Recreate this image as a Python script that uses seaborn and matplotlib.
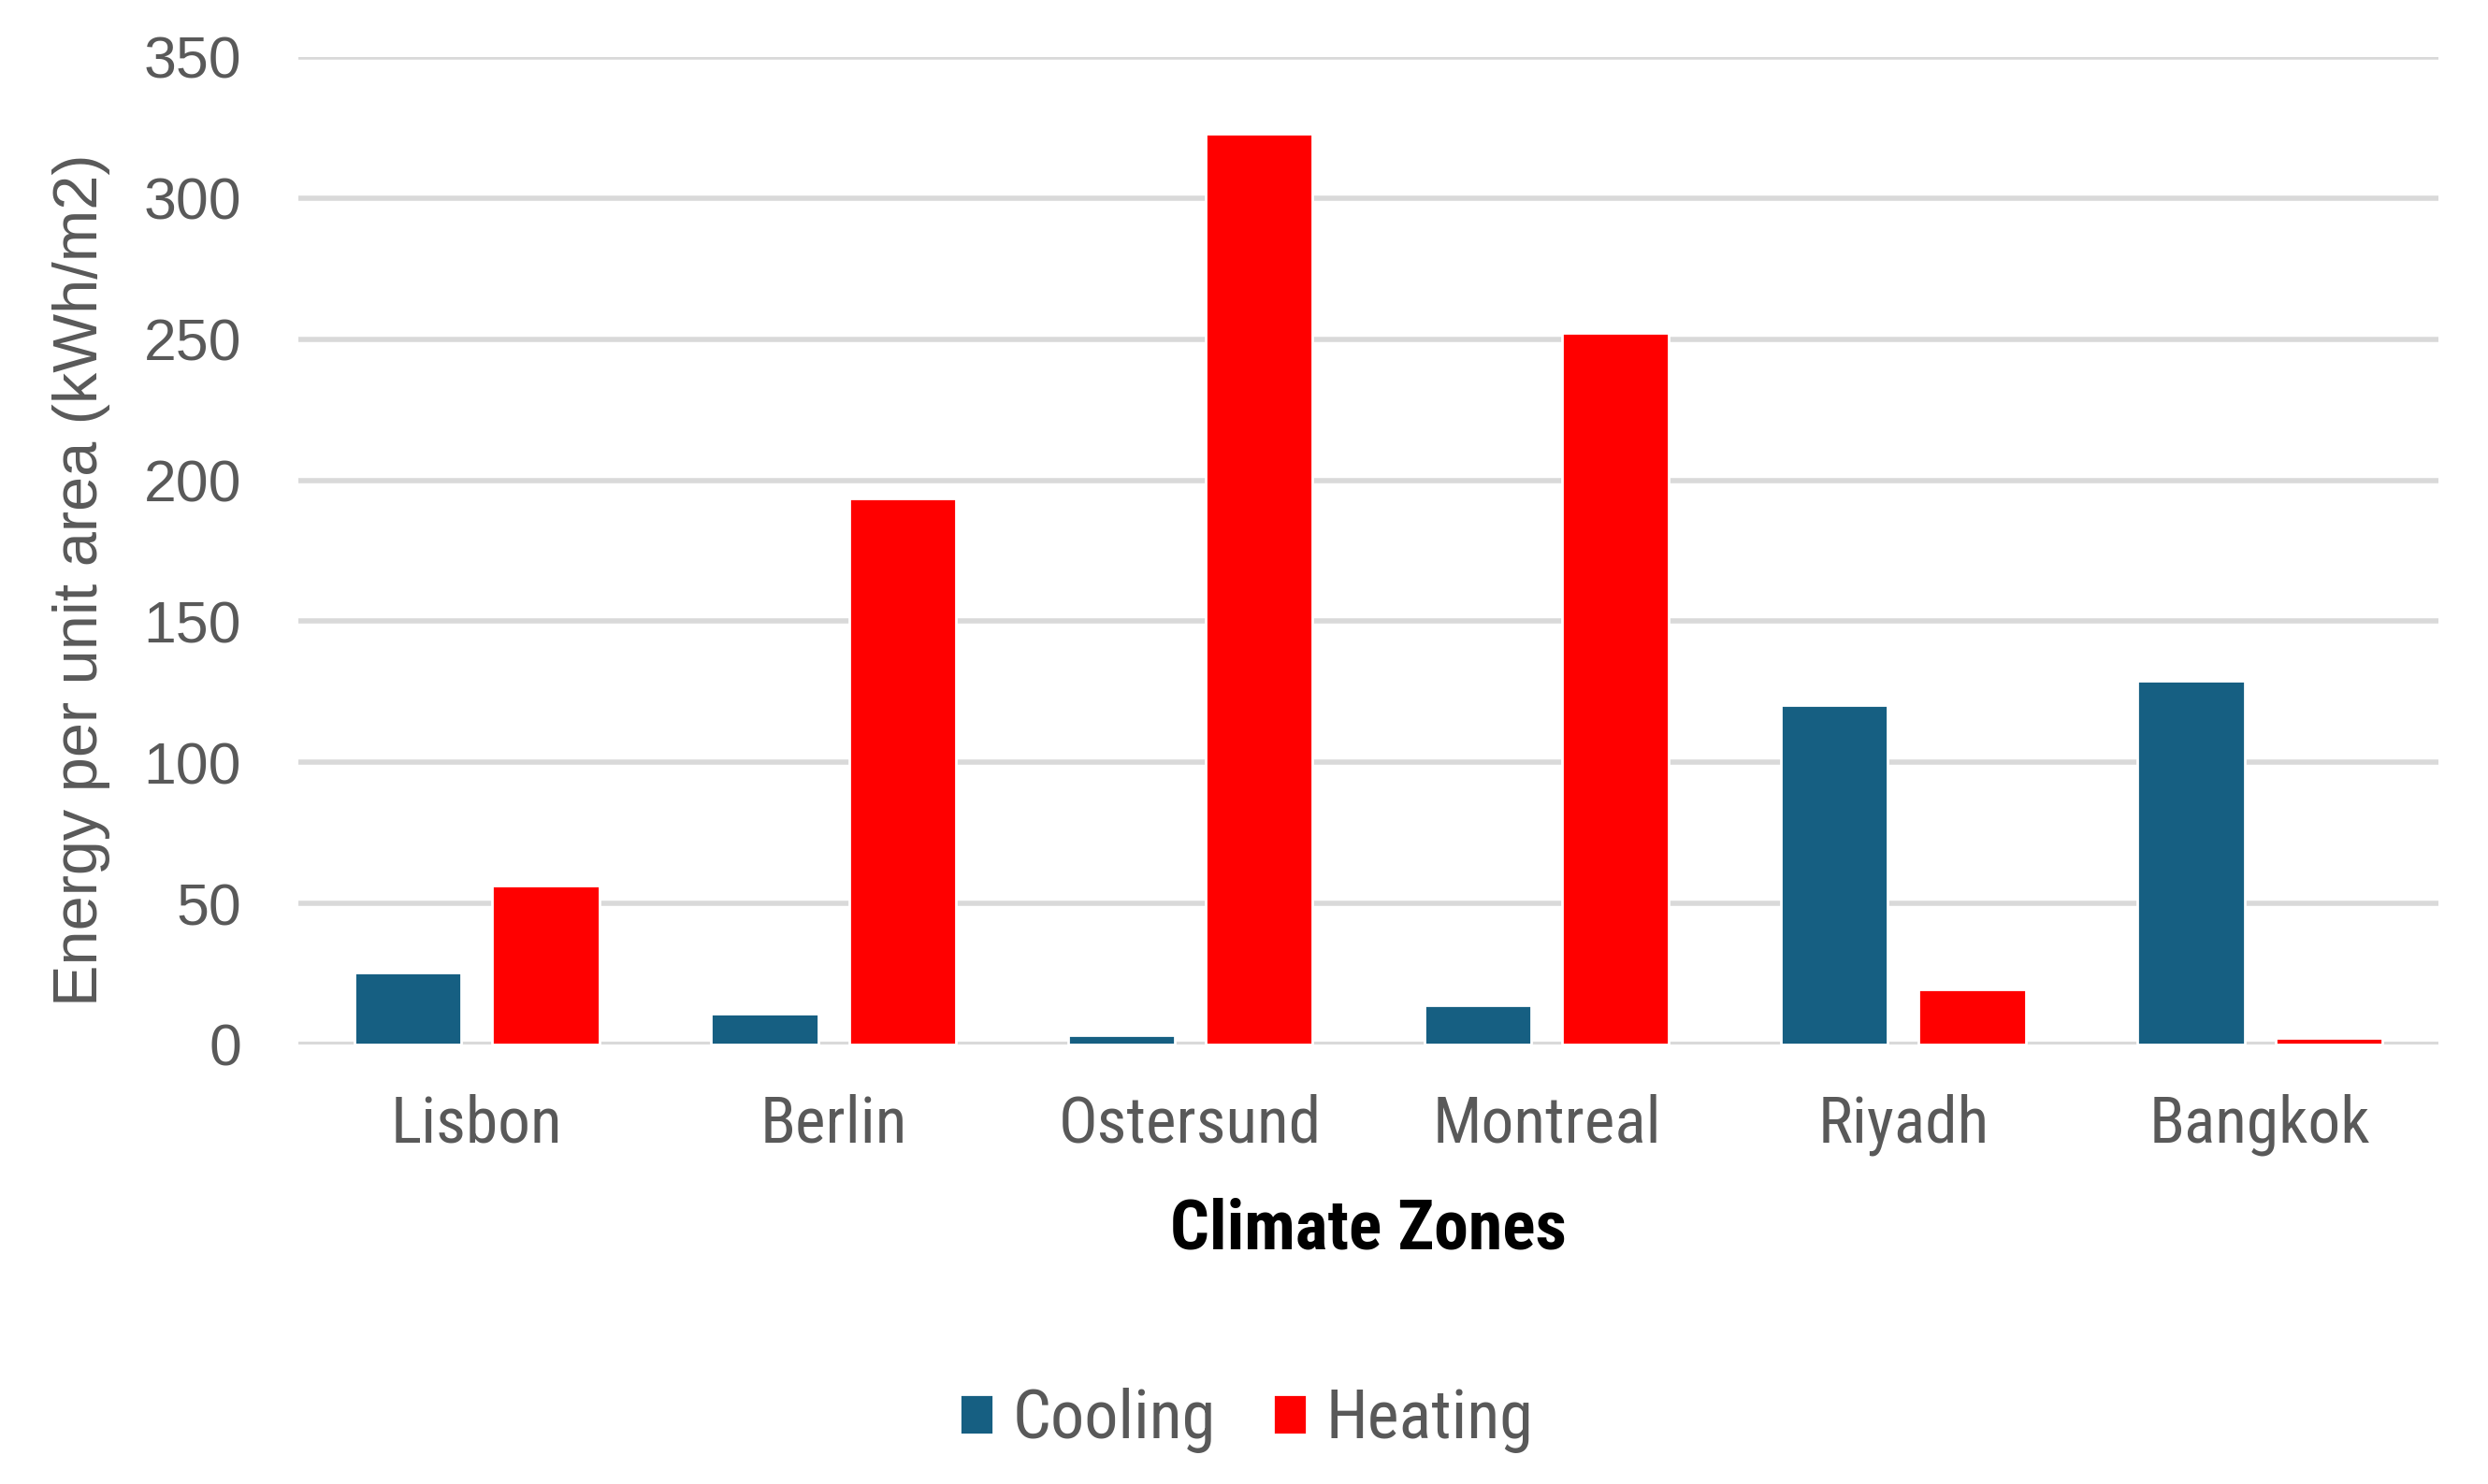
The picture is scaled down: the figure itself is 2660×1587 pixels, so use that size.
import matplotlib
matplotlib.use('Agg')
import matplotlib.pyplot as plt
import seaborn as sns
from matplotlib import font_manager
from pandas import DataFrame

cities = ['Lisbon', 'Berlin', 'Ostersund', 'Montreal', 'Riyadh', 'Bangkok']
cooling = [25.5, 11.0, 3.3, 13.8, 120.2, 128.8]
heating = [56.3, 193.5, 322.8, 252.1, 19.6, 2.2]
series_names = ['Cooling', 'Heating']
colors = ['#165f82', '#ff0000']
yticks = [0, 50, 100, 150, 200, 250, 300, 350]

installed = {f.name for f in font_manager.fontManager.ttflist}
narrow = 'Roboto'
for name in ['Liberation Sans Narrow', 'Roboto Condensed', 'Open Sans Condensed']:
    if name in installed:
        narrow = name
        break

sns.set_style('white')
plt.rcParams['font.family'] = ['Liberation Sans', 'DejaVu Sans']

df = DataFrame({
    'city': cities * 2,
    'value': cooling + heating,
    'series': [series_names[0]] * len(cities) + [series_names[1]] * len(cities),
})

fig = plt.figure(figsize=(13.3, 7.935), dpi=200)
ax = fig.add_axes([0.12, 0.2962, 0.86, 0.6654])

sns.barplot(data=df, x='city', y='value', hue='series', palette=colors,
            width=0.773, gap=0.224, saturation=1, ax=ax, legend=True)

ax.set_ylim(0, 350)
ax.set_yticks(yticks)
ax.yaxis.grid(True, color='#d9d9d9', linewidth=2.0)
ax.set_axisbelow(True)
for s in ax.spines.values():
    s.set_visible(False)
ax.axhline(0, color='#d9d9d9', linewidth=2.2, zorder=0.5)
ax.tick_params(axis='both', length=0)
ax.tick_params(axis='y', pad=22, labelsize=22.5, labelcolor='#595959')
ax.tick_params(axis='x', pad=19, labelsize=25, labelcolor='#595959')
for lab in ax.get_xticklabels():
    lab.set_family([narrow, 'DejaVu Sans'])

ax.set_ylabel('Energy per unit area (kWh/m2)', fontsize=24, color='#595959')
ax.yaxis.set_label_coords(-0.088, 0.47)
ax.set_xlabel('Climate Zones', fontsize=26.5, fontweight='bold', color='black',
              family=[narrow, 'DejaVu Sans'], labelpad=16)

sns.move_legend(ax, 'center', bbox_to_anchor=(0.443, -0.381), ncol=2, frameon=False,
                title=None, handlelength=0.5, handleheight=0.53,
                handletextpad=0.28, columnspacing=0.85,
                prop={'family': [narrow, 'DejaVu Sans'], 'size': 26})
for t in ax.get_legend().get_texts():
    t.set_color('#595959')

fig.savefig('out.png', dpi=200, facecolor='white')
